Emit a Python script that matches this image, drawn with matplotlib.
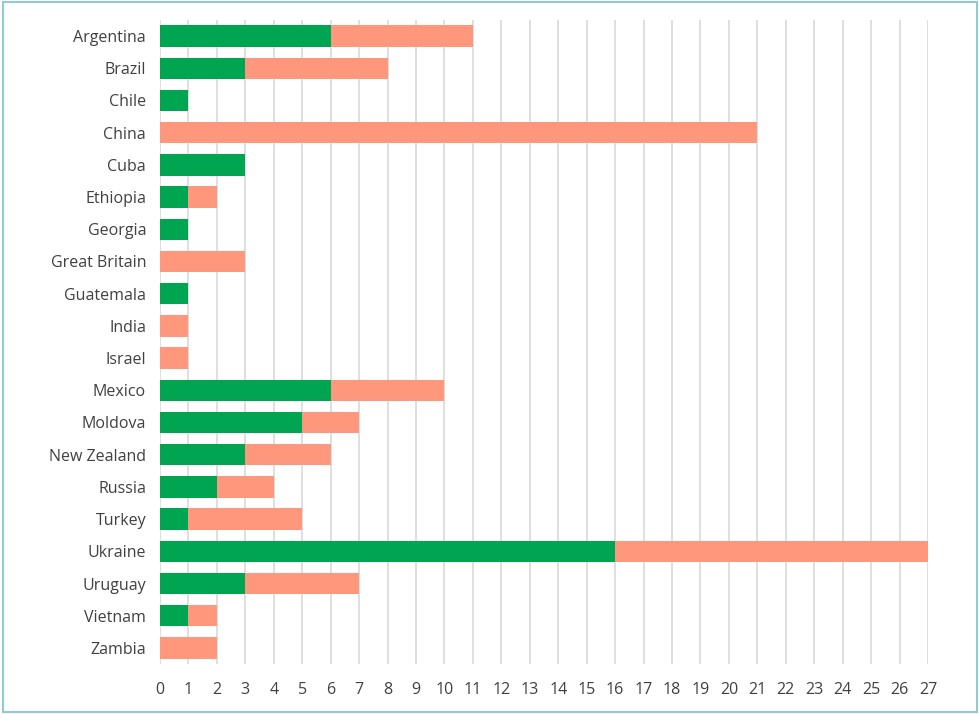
import matplotlib
matplotlib.use("Agg")
import matplotlib.pyplot as plt
from matplotlib.patches import Rectangle

countries = ["Argentina", "Brazil", "Chile", "China", "Cuba", "Ethiopia", "Georgia",
             "Great Britain", "Guatemala", "India", "Israel", "Mexico", "Moldova",
             "New Zealand", "Russia", "Turkey", "Ukraine", "Uruguay", "Vietnam", "Zambia"]
green_vals = [6, 3, 1, 0, 3, 1, 1, 0, 1, 0, 0, 6, 5, 3, 2, 1, 16, 3, 1, 0]
salmon_vals = [5, 5, 0, 21, 0, 1, 0, 3, 0, 1, 1, 4, 2, 3, 2, 4, 11, 4, 1, 2]
xticks = list(range(0, 28))

plt.rcParams['font.family'] = ['Open Sans', 'DejaVu Sans']

fig = plt.figure(figsize=(9.8, 7.14), dpi=100)
ax = fig.add_axes([160/980, 1-664/714, (928-160)/980, (664-20)/714])

y = list(range(len(countries)))
h = 0.66
ax.barh(y, green_vals, height=h, color="#00A551", zorder=3)
ax.barh(y, salmon_vals, left=green_vals, height=h, color="#FF977C", zorder=3)

ax.set_ylim(len(countries)-0.5, -0.5)
ax.set_xlim(0, 27)
ax.set_xticks(xticks)
ax.set_yticks(y)
ax.set_yticklabels(countries)
ax.grid(axis="x", color="#D9D9D9", linewidth=1.2, zorder=0)
for s in ax.spines.values():
    s.set_visible(False)
ax.tick_params(axis="both", length=0, labelsize=11.5, colors="#404040")
ax.tick_params(axis="x", pad=13)
ax.tick_params(axis="y", pad=10)

fig.patches.append(Rectangle((0.003, 0.003), 0.994, 0.994, transform=fig.transFigure,
                             fill=False, edgecolor="#8FCBD3", linewidth=1.5))

fig.savefig("out.png", dpi=100)
